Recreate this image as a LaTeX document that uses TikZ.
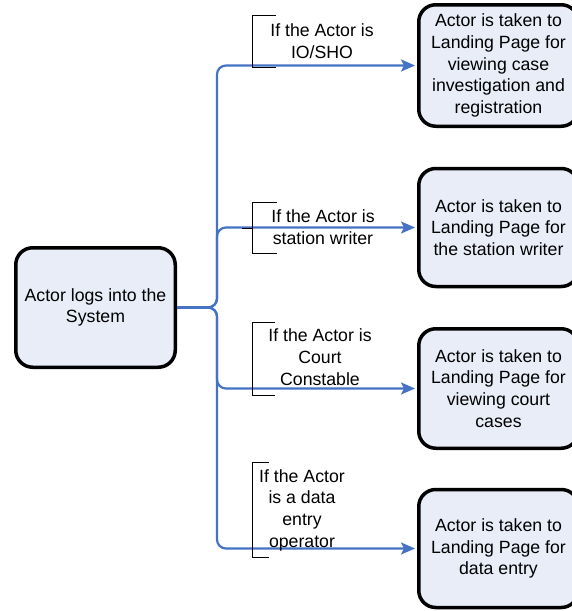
\documentclass[tikz,border=0pt]{standalone}
\usepackage{fontspec}
\setmainfont{Liberation Sans}
\usetikzlibrary{arrows.meta,positioning}
\definecolor{boxfill}{HTML}{E8EDF7}
\definecolor{linkblue}{HTML}{4472C4}

\begin{document}
\begin{tikzpicture}[
  x=1pt, y=-1pt,
  font=\fontsize{17.7}{21.7}\selectfont,
  box/.style={draw, rectangle, rounded corners=17pt, fill=boxfill,
              line width=3.5pt, minimum width=159.5pt, minimum height=118pt,
              align=center, inner sep=2pt},
  arr/.style={-{Stealth[length=14pt,width=12pt,inset=3pt]},
              line width=2.2pt, draw=linkblue, fill=none,
              rounded corners=9pt, shorten >=2pt},
  cond/.style={align=center, inner sep=0pt},
  bracket/.style={draw, line width=1pt}
]
\useasboundingbox (0,0) rectangle (571,611);

%% Start: login box
\node[box, minimum height=119.5pt]
  (login) at (95.5,307.5) {Actor logs into the\\System};

%% Landing pages, one per actor
\node[box, minimum height=121.5pt]
  (caseland) at (498.5,65.5) {Actor is taken to\\Landing Page for\\viewing case\\investigation and\\registration};

\node[box]
  (writerland) at (498.5,227.5) {Actor is taken to\\Landing Page for\\the station writer};

\node[box, minimum height=119.5pt]
  (courtland) at (498.5,388.5) {Actor is taken to\\Landing Page for\\viewing court\\cases};

\node[box]
  (entryland) at (498.5,548.5) {Actor is taken to\\Landing Page for\\data entry};

%% Fork point of the connectors
\coordinate (fork) at (217,307.5);

\draw[arr] (login.east) -- (fork) |- (caseland.west);
\draw[arr] (login.east) -- (fork) |- (writerland.west);
\draw[arr] (login.east) -- (fork) |- (courtland.west);
\draw[arr] (login.east) -- (fork) |- (entryland.west);

%% Conditions with bracket callouts
\node[cond] (ifio) at (322,41) {If the Actor is\\IO/SHO};
\node[cond] (ifwriter) at (323,227) {If the Actor is\\station writer};
\node[cond] (ifcourt) at (320,357) {If the Actor is\\Court\\Constable};
\node[cond] (ifentry) at (302,510) {If the Actor\\is a data\\entry\\operator};

\foreach \top/\bot/\tick in {15/67/276, 202/253/277, 322/395/275, 462/557/269}
  \draw[bracket] (\tick,\top) -| (252,\bot) -- (\tick,\bot);
\draw[bracket] (242,228) -- (252,228);

\end{tikzpicture}
\end{document}
